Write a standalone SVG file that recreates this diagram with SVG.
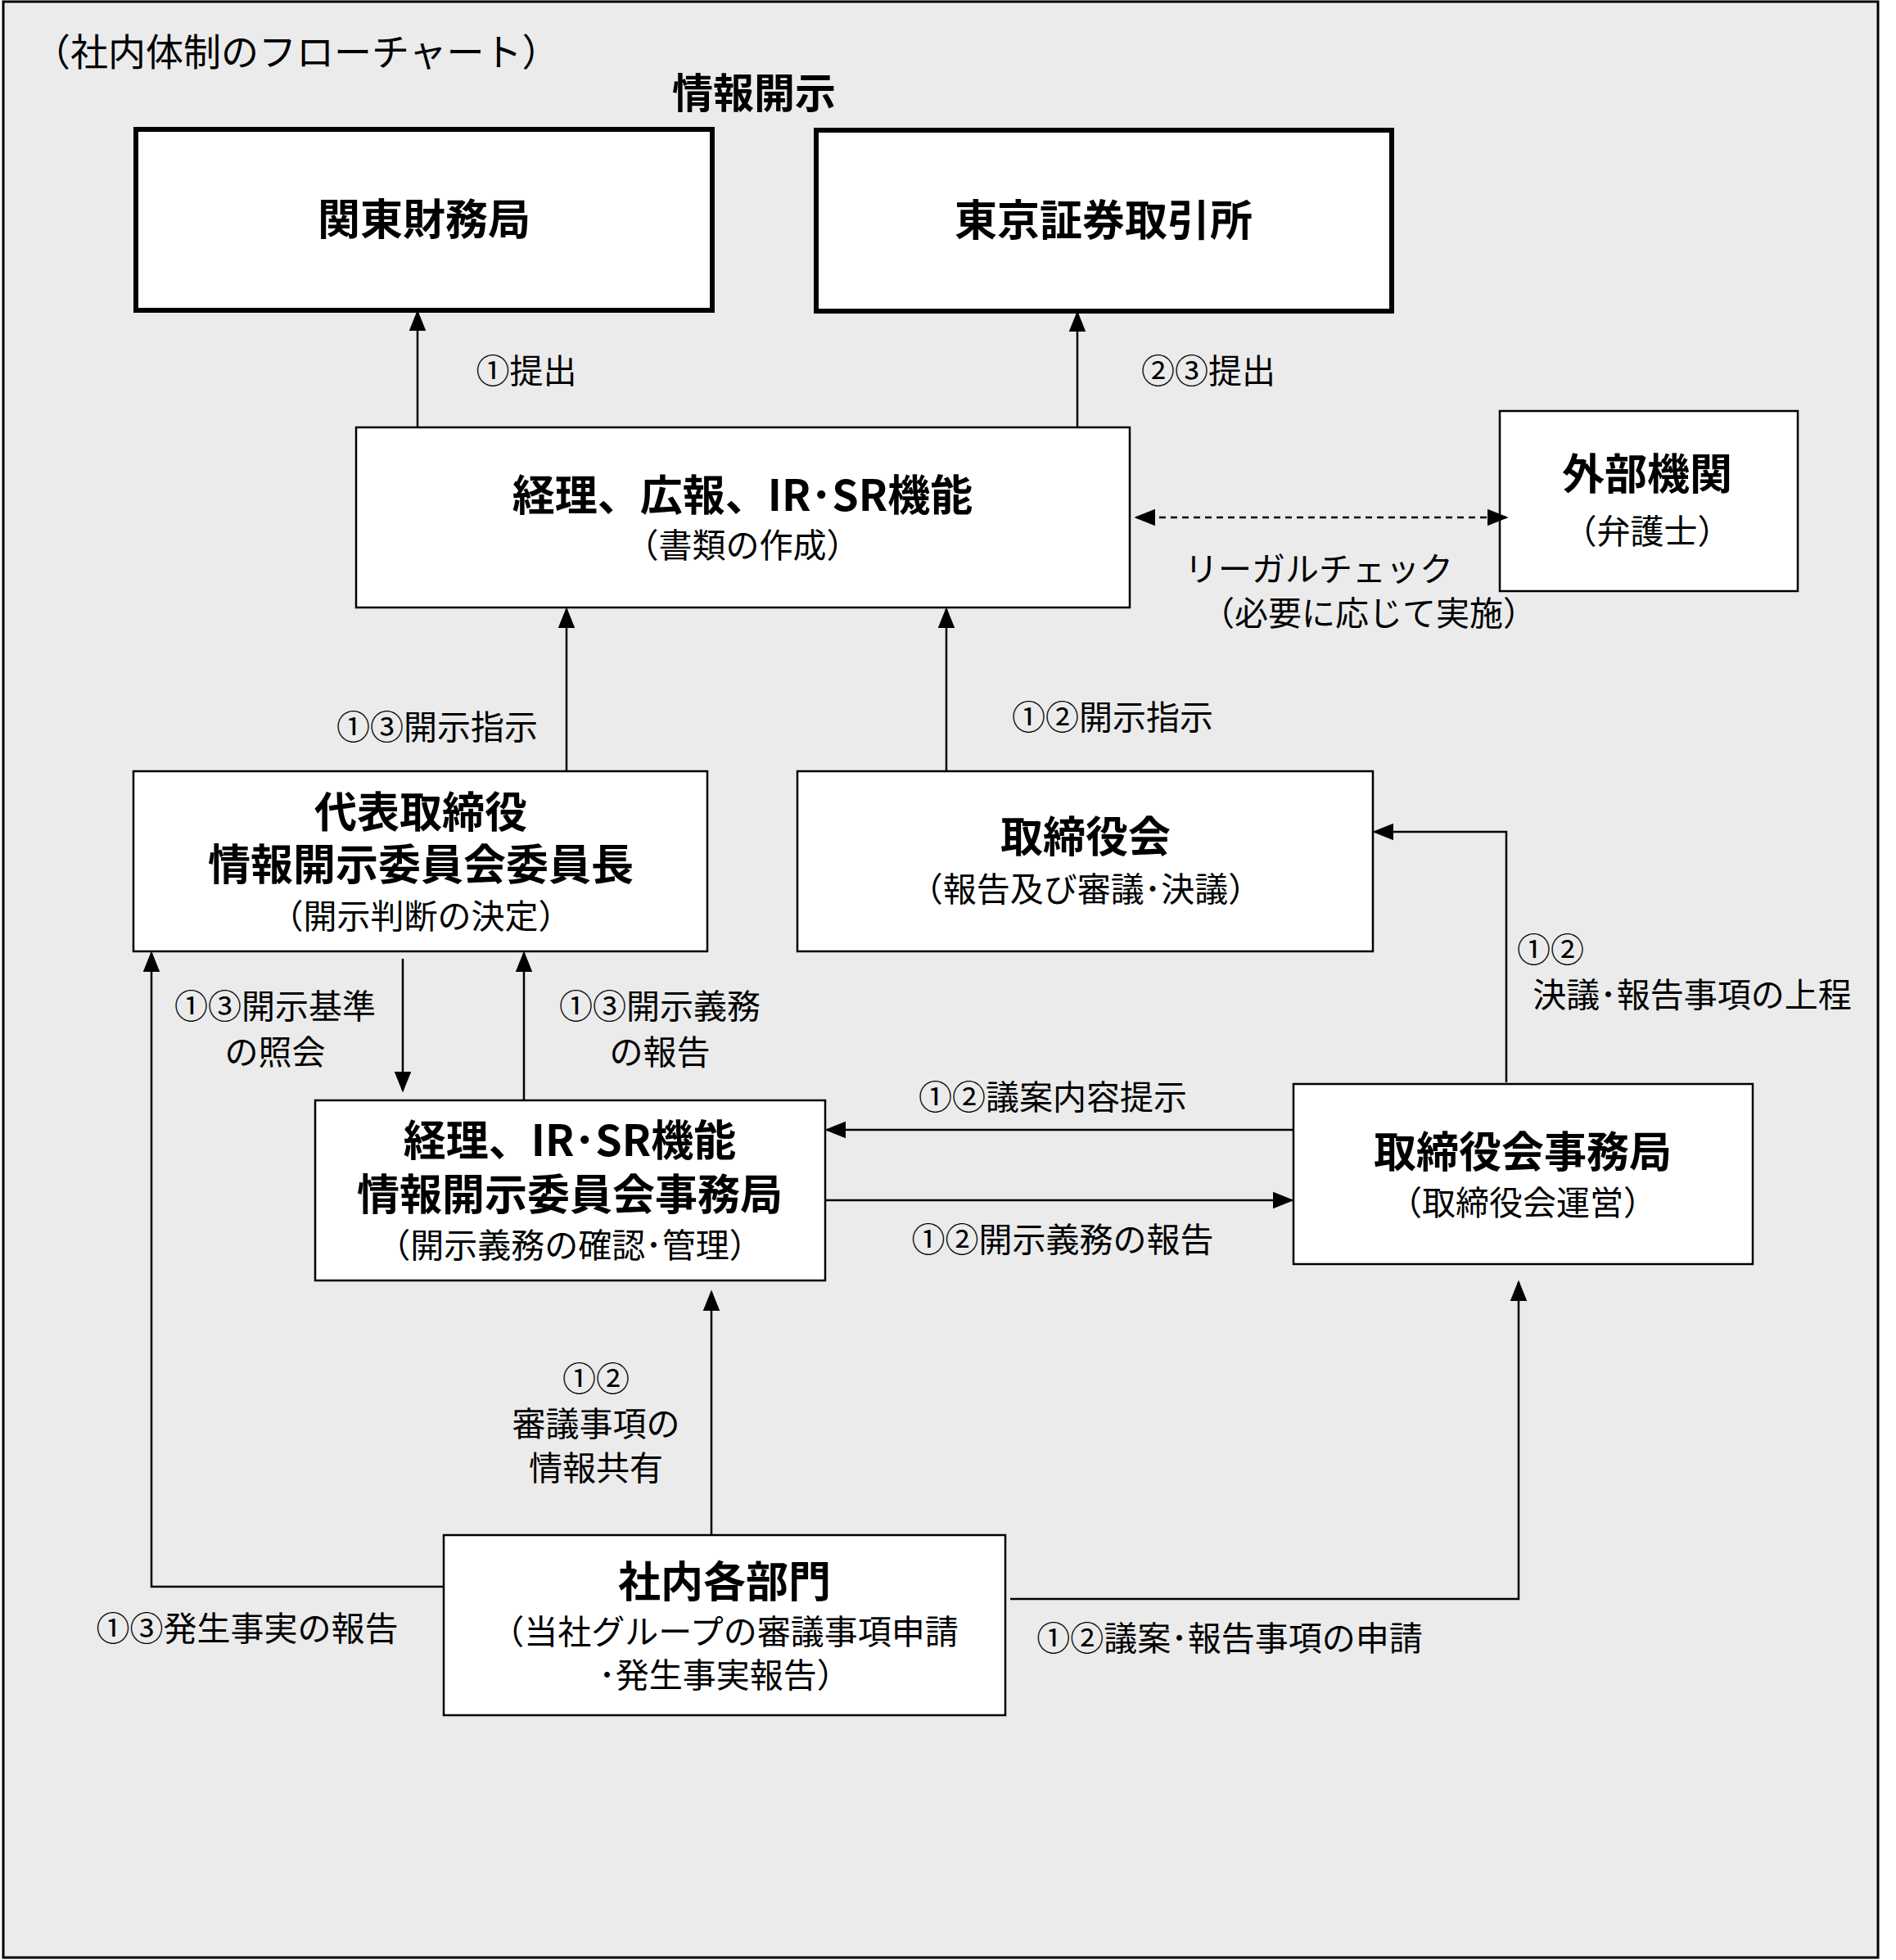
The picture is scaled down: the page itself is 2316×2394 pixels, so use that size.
<svg xmlns="http://www.w3.org/2000/svg" width="2316" height="2394" viewBox="0 0 2316 2394">
<style>
text{font-family:"Noto Sans CJK JP","Noto Sans",sans-serif;fill:#000;text-anchor:middle}
.b{font-weight:bold;font-size:52px}
.n{font-size:41px}
.box{fill:#fff;stroke:#000;stroke-width:2.5}
.thick{fill:#fff;stroke:#000;stroke-width:6}
.ln{fill:none;stroke:#000;stroke-width:2.5}
</style>
<defs>
<marker id="b" viewBox="0 0 10 10" refX="9" refY="5" markerWidth="26" markerHeight="26" markerUnits="userSpaceOnUse" orient="auto-start-reverse"><path d="M0,1L10,5L0,9z" fill="#000"/></marker>
</defs>
<rect x="4" y="2" width="2290" height="2389" fill="#ebebeb" stroke="#000" stroke-width="3"/>
<text x="40" y="80" style="text-anchor:start;font-size:46px">（社内体制のフローチャート）</text>
<text x="921" y="132" class="b" style="font-size:50px">情報開示</text>
<g id="n1"><rect class="thick" x="166" y="158" width="704" height="221"/><text class="b" x="518" y="287">関東財務局</text></g>
<g id="n2"><rect class="thick" x="997" y="159" width="703" height="221"/><text class="b" x="1348" y="288">東京証券取引所</text></g>
<g id="n3"><rect class="box" x="435" y="522" width="945" height="220"/><text class="b" x="907" y="624">経理、広報、IR･SR機能</text><text class="n" x="907" y="681">（書類の作成）</text></g>
<g id="n4"><rect class="box" x="1832" y="502" width="364" height="220"/><text class="b" x="2012" y="598">外部機関</text><text class="n" x="2012" y="664">（弁護士）</text></g>
<g id="n5"><rect class="box" x="163" y="942" width="701" height="220"/><text class="b" x="514" y="1011">代表取締役</text><text class="b" x="514" y="1075">情報開示委員会委員長</text><text class="n" x="514" y="1134">（開示判断の決定）</text></g>
<g id="n6"><rect class="box" x="974" y="942" width="703" height="220"/><text class="b" x="1326" y="1041">取締役会</text><text class="n" x="1326" y="1101">（報告及び審議･決議）</text></g>
<g id="n7"><rect class="box" x="385" y="1344" width="623" height="220"/><text class="b" x="696" y="1412">経理、IR･SR機能</text><text class="b" x="696" y="1478">情報開示委員会事務局</text><text class="n" x="696" y="1536">（開示義務の確認･管理）</text></g>
<g id="n8"><rect class="box" x="1580" y="1324" width="561" height="220"/><text class="b" x="1860" y="1426">取締役会事務局</text><text class="n" x="1860" y="1484">（取締役会運営）</text></g>
<g id="n9"><rect class="box" x="542" y="1875" width="686" height="220"/><text class="b" x="885" y="1951">社内各部門</text><text class="n" x="885" y="2008">（当社グループの審議事項申請</text><text class="n" x="885" y="2061">･発生事実報告）</text></g>
<g id="edges">
<path class="ln" marker-end="url(#b)" d="M510,521V381"/>
<path class="ln" marker-end="url(#b)" d="M1316,521V382"/>
<path class="ln" stroke-dasharray="8,6" marker-start="url(#b)" marker-end="url(#b)" d="M1388,632H1840"/>
<path class="ln" marker-end="url(#b)" d="M692,942V744"/>
<path class="ln" marker-end="url(#b)" d="M1156,942V744"/>
<path class="ln" marker-end="url(#b)" d="M1840,1322V1016H1679"/>
<path class="ln" marker-end="url(#b)" d="M542,1938H185V1164"/>
<path class="ln" marker-end="url(#b)" d="M492,1171V1332"/>
<path class="ln" marker-end="url(#b)" d="M640,1344V1164"/>
<path class="ln" marker-end="url(#b)" d="M1580,1380H1010"/>
<path class="ln" marker-end="url(#b)" d="M1008,1466H1578"/>
<path class="ln" marker-end="url(#b)" d="M869,1875V1578"/>
<path class="ln" marker-end="url(#b)" d="M1234,1953H1855V1566"/>
</g>
<g id="labels">
<text class="n" x="643" y="468">①提出</text>
<text class="n" x="1476" y="468">②③提出</text>
<text class="n" x="1611" y="710">リーガルチェック</text>
<text class="n" x="1672" y="764">（必要に応じて実施）</text>
<text class="n" x="534" y="903">①③開示指示</text>
<text class="n" x="1359" y="891">①②開示指示</text>
<text class="n" x="1894" y="1175">①②</text>
<text class="n" x="2067" y="1230">決議･報告事項の上程</text>
<text class="n" x="336" y="1244">①③開示基準</text>
<text class="n" x="336" y="1300">の照会</text>
<text class="n" x="806" y="1244">①③開示義務</text>
<text class="n" x="806" y="1300">の報告</text>
<text class="n" x="1286" y="1355">①②議案内容提示</text>
<text class="n" x="1298" y="1529">①②開示義務の報告</text>
<text class="n" x="728" y="1699">①②</text>
<text class="n" x="728" y="1754">審議事項の</text>
<text class="n" x="728" y="1808">情報共有</text>
<text class="n" x="302" y="2004">①③発生事実の報告</text>
<text class="n" x="1502" y="2016">①②議案･報告事項の申請</text>
</g>
</svg>
